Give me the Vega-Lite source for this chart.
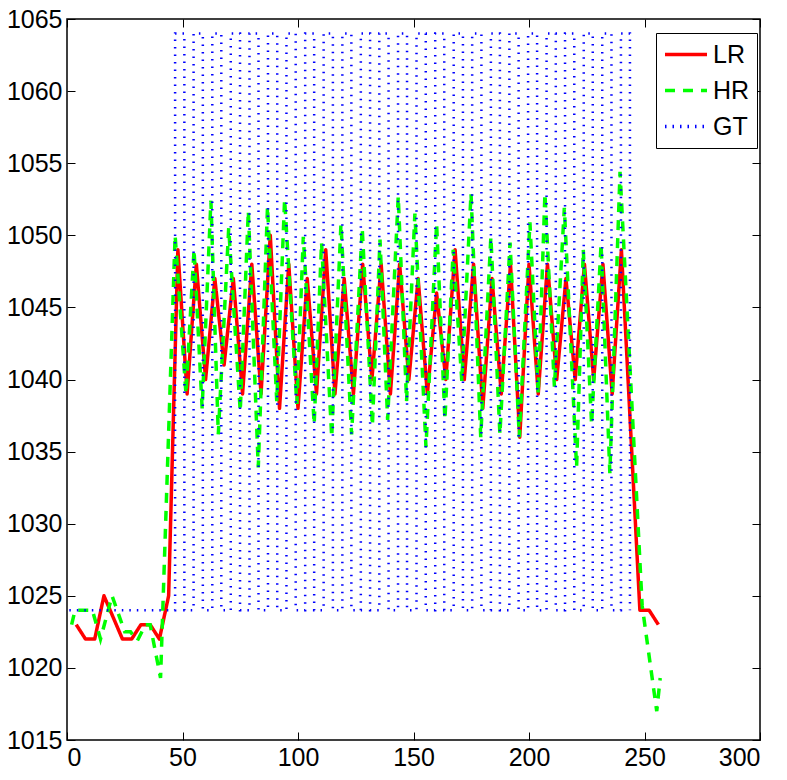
{
  "$schema": "https://vega.github.io/schema/vega-lite/v6.json",
  "width": 693,
  "height": 721,
  "autosize": {"type": "none"},
  "padding": {"left": 67, "top": 19, "right": 27, "bottom": 40},
  "background": "white",
  "config": {
    "view": {"stroke": "black", "strokeWidth": 1.5},
    "axis": {
      "grid": false,
      "domain": false,
      "tickColor": "black",
      "tickSize": -8,
      "tickWidth": 1,
      "labelFont": "Liberation Sans, Arial, sans-serif",
      "labelFontSize": 25,
      "labelColor": "black",
      "format": "d",
      "title": null
    }
  },
  "datasets": {
    "lr": [
      {"x": 4, "y": 1023, "s": "LR"}, {"x": 8, "y": 1022, "s": "LR"}, {"x": 12, "y": 1022, "s": "LR"},
      {"x": 16, "y": 1025, "s": "LR"}, {"x": 20, "y": 1023.5, "s": "LR"}, {"x": 24, "y": 1022, "s": "LR"},
      {"x": 28, "y": 1022, "s": "LR"}, {"x": 32, "y": 1023, "s": "LR"}, {"x": 36, "y": 1023, "s": "LR"},
      {"x": 40, "y": 1022, "s": "LR"}, {"x": 44, "y": 1025, "s": "LR"}, {"x": 48, "y": 1049, "s": "LR"},
      {"x": 52, "y": 1039, "s": "LR"}, {"x": 56, "y": 1048, "s": "LR"}, {"x": 60, "y": 1040, "s": "LR"},
      {"x": 64, "y": 1047, "s": "LR"}, {"x": 68, "y": 1041, "s": "LR"}, {"x": 72, "y": 1047, "s": "LR"},
      {"x": 76, "y": 1039, "s": "LR"}, {"x": 80, "y": 1048, "s": "LR"}, {"x": 84, "y": 1039, "s": "LR"},
      {"x": 88, "y": 1050, "s": "LR"}, {"x": 92, "y": 1038, "s": "LR"}, {"x": 96, "y": 1048, "s": "LR"},
      {"x": 100, "y": 1038, "s": "LR"}, {"x": 104, "y": 1047, "s": "LR"}, {"x": 108, "y": 1039, "s": "LR"},
      {"x": 112, "y": 1049, "s": "LR"}, {"x": 116, "y": 1039, "s": "LR"}, {"x": 120, "y": 1047, "s": "LR"},
      {"x": 124, "y": 1039, "s": "LR"}, {"x": 128, "y": 1048, "s": "LR"}, {"x": 132, "y": 1040, "s": "LR"},
      {"x": 136, "y": 1048, "s": "LR"}, {"x": 140, "y": 1039, "s": "LR"}, {"x": 144, "y": 1048, "s": "LR"},
      {"x": 148, "y": 1040, "s": "LR"}, {"x": 152, "y": 1047, "s": "LR"}, {"x": 156, "y": 1039, "s": "LR"},
      {"x": 160, "y": 1046, "s": "LR"}, {"x": 164, "y": 1040, "s": "LR"}, {"x": 168, "y": 1049, "s": "LR"},
      {"x": 172, "y": 1040, "s": "LR"}, {"x": 176, "y": 1048, "s": "LR"}, {"x": 180, "y": 1038, "s": "LR"},
      {"x": 184, "y": 1047, "s": "LR"}, {"x": 188, "y": 1039, "s": "LR"}, {"x": 192, "y": 1048, "s": "LR"},
      {"x": 196, "y": 1036, "s": "LR"}, {"x": 200, "y": 1048, "s": "LR"}, {"x": 204, "y": 1039, "s": "LR"},
      {"x": 208, "y": 1048, "s": "LR"}, {"x": 212, "y": 1040, "s": "LR"}, {"x": 216, "y": 1047, "s": "LR"},
      {"x": 220, "y": 1040, "s": "LR"}, {"x": 224, "y": 1048, "s": "LR"}, {"x": 228, "y": 1040, "s": "LR"},
      {"x": 232, "y": 1048, "s": "LR"}, {"x": 236, "y": 1039, "s": "LR"}, {"x": 240, "y": 1049, "s": "LR"},
      {"x": 244, "y": 1036.5, "s": "LR"}, {"x": 248, "y": 1024, "s": "LR"}, {"x": 252, "y": 1024, "s": "LR"},
      {"x": 256, "y": 1023, "s": "LR"}
    ],
    "hr": [
      {"x": 2, "y": 1023, "s": "HR"}, {"x": 3.5, "y": 1024, "s": "HR"}, {"x": 11, "y": 1024, "s": "HR"},
      {"x": 14.5, "y": 1022, "s": "HR"}, {"x": 19.5, "y": 1025, "s": "HR"}, {"x": 25, "y": 1022.5, "s": "HR"},
      {"x": 27.5, "y": 1022.5, "s": "HR"}, {"x": 30.5, "y": 1021.9, "s": "HR"}, {"x": 34, "y": 1023, "s": "HR"},
      {"x": 36, "y": 1023, "s": "HR"}, {"x": 40.5, "y": 1019.3, "s": "HR"},
      {"x": 46.8, "y": 1050, "s": "HR"}, {"x": 51.5, "y": 1039, "s": "HR"}, {"x": 55, "y": 1049, "s": "HR"},
      {"x": 58.5, "y": 1038, "s": "HR"}, {"x": 62.3, "y": 1052.4, "s": "HR"}, {"x": 65.5, "y": 1036.2, "s": "HR"},
      {"x": 70, "y": 1050.5, "s": "HR"}, {"x": 75, "y": 1037.8, "s": "HR"}, {"x": 78.5, "y": 1051.7, "s": "HR"},
      {"x": 82.8, "y": 1033.9, "s": "HR"}, {"x": 86.8, "y": 1052, "s": "HR"}, {"x": 90.8, "y": 1038.5, "s": "HR"},
      {"x": 94.2, "y": 1052.5, "s": "HR"}, {"x": 99.5, "y": 1038.3, "s": "HR"}, {"x": 102.3, "y": 1049.9, "s": "HR"},
      {"x": 107, "y": 1036.9, "s": "HR"}, {"x": 110.2, "y": 1049.5, "s": "HR"}, {"x": 114.6, "y": 1036, "s": "HR"},
      {"x": 118.6, "y": 1050.8, "s": "HR"}, {"x": 123.2, "y": 1036.2, "s": "HR"}, {"x": 127.8, "y": 1050.5, "s": "HR"},
      {"x": 132.2, "y": 1036.8, "s": "HR"}, {"x": 135.5, "y": 1049.7, "s": "HR"}, {"x": 138.8, "y": 1037.2, "s": "HR"},
      {"x": 143.4, "y": 1052.7, "s": "HR"}, {"x": 147, "y": 1038.5, "s": "HR"}, {"x": 150.6, "y": 1051.5, "s": "HR"},
      {"x": 155.4, "y": 1035.3, "s": "HR"}, {"x": 160, "y": 1050.8, "s": "HR"}, {"x": 163.6, "y": 1037.2, "s": "HR"},
      {"x": 167.2, "y": 1049, "s": "HR"}, {"x": 170.9, "y": 1039.9, "s": "HR"}, {"x": 174.9, "y": 1052.9, "s": "HR"},
      {"x": 179.1, "y": 1036, "s": "HR"}, {"x": 183.5, "y": 1049.9, "s": "HR"}, {"x": 187.4, "y": 1036.2, "s": "HR"},
      {"x": 191.8, "y": 1049.5, "s": "HR"}, {"x": 195.8, "y": 1036, "s": "HR"}, {"x": 200.4, "y": 1050.9, "s": "HR"},
      {"x": 204, "y": 1039, "s": "HR"}, {"x": 206.9, "y": 1052.9, "s": "HR"}, {"x": 211, "y": 1039.5, "s": "HR"},
      {"x": 215.3, "y": 1051.9, "s": "HR"}, {"x": 220.6, "y": 1033.9, "s": "HR"}, {"x": 223.5, "y": 1049, "s": "HR"},
      {"x": 227.1, "y": 1036.9, "s": "HR"}, {"x": 231.2, "y": 1049.4, "s": "HR"}, {"x": 235, "y": 1033.5, "s": "HR"},
      {"x": 239.4, "y": 1054.4, "s": "HR"}, {"x": 249, "y": 1024.3, "s": "HR"}, {"x": 255.3, "y": 1017, "s": "HR"},
      {"x": 256.8, "y": 1019.3, "s": "HR"}
    ],
    "gt": [
      {"i": 0, "x": 1, "y": 1024, "s": "GT"},
      {"i": 1, "x": 46.8, "y": 1024, "s": "GT"}, {"i": 2, "x": 46.8, "y": 1064, "s": "GT"}, {"i": 3, "x": 50.8, "y": 1064, "s": "GT"}, {"i": 4, "x": 50.8, "y": 1024, "s": "GT"},
      {"i": 5, "x": 54.8, "y": 1024, "s": "GT"}, {"i": 6, "x": 54.8, "y": 1064, "s": "GT"}, {"i": 7, "x": 58.8, "y": 1064, "s": "GT"}, {"i": 8, "x": 58.8, "y": 1024, "s": "GT"},
      {"i": 9, "x": 62.9, "y": 1024, "s": "GT"}, {"i": 10, "x": 62.9, "y": 1064, "s": "GT"}, {"i": 11, "x": 66.8, "y": 1064, "s": "GT"}, {"i": 12, "x": 66.8, "y": 1024, "s": "GT"},
      {"i": 13, "x": 70.9, "y": 1024, "s": "GT"}, {"i": 14, "x": 70.9, "y": 1064, "s": "GT"}, {"i": 15, "x": 74.9, "y": 1064, "s": "GT"}, {"i": 16, "x": 74.9, "y": 1024, "s": "GT"},
      {"i": 17, "x": 79.0, "y": 1024, "s": "GT"}, {"i": 18, "x": 79.0, "y": 1064, "s": "GT"}, {"i": 19, "x": 82.9, "y": 1064, "s": "GT"}, {"i": 20, "x": 82.9, "y": 1024, "s": "GT"},
      {"i": 21, "x": 87.0, "y": 1024, "s": "GT"}, {"i": 22, "x": 87.0, "y": 1064, "s": "GT"}, {"i": 23, "x": 91.0, "y": 1064, "s": "GT"}, {"i": 24, "x": 91.0, "y": 1024, "s": "GT"},
      {"i": 25, "x": 95.0, "y": 1024, "s": "GT"}, {"i": 26, "x": 95.0, "y": 1064, "s": "GT"}, {"i": 27, "x": 99.0, "y": 1064, "s": "GT"}, {"i": 28, "x": 99.0, "y": 1024, "s": "GT"},
      {"i": 29, "x": 103.1, "y": 1024, "s": "GT"}, {"i": 30, "x": 103.1, "y": 1064, "s": "GT"}, {"i": 31, "x": 107.0, "y": 1064, "s": "GT"}, {"i": 32, "x": 107.0, "y": 1024, "s": "GT"},
      {"i": 33, "x": 111.1, "y": 1024, "s": "GT"}, {"i": 34, "x": 111.1, "y": 1064, "s": "GT"}, {"i": 35, "x": 115.1, "y": 1064, "s": "GT"}, {"i": 36, "x": 115.1, "y": 1024, "s": "GT"},
      {"i": 37, "x": 119.2, "y": 1024, "s": "GT"}, {"i": 38, "x": 119.2, "y": 1064, "s": "GT"}, {"i": 39, "x": 123.1, "y": 1064, "s": "GT"}, {"i": 40, "x": 123.1, "y": 1024, "s": "GT"},
      {"i": 41, "x": 127.2, "y": 1024, "s": "GT"}, {"i": 42, "x": 127.2, "y": 1064, "s": "GT"}, {"i": 43, "x": 131.2, "y": 1064, "s": "GT"}, {"i": 44, "x": 131.2, "y": 1024, "s": "GT"},
      {"i": 45, "x": 135.2, "y": 1024, "s": "GT"}, {"i": 46, "x": 135.2, "y": 1064, "s": "GT"}, {"i": 47, "x": 139.2, "y": 1064, "s": "GT"}, {"i": 48, "x": 139.2, "y": 1024, "s": "GT"},
      {"i": 49, "x": 143.3, "y": 1024, "s": "GT"}, {"i": 50, "x": 143.3, "y": 1064, "s": "GT"}, {"i": 51, "x": 147.2, "y": 1064, "s": "GT"}, {"i": 52, "x": 147.2, "y": 1024, "s": "GT"},
      {"i": 53, "x": 151.3, "y": 1024, "s": "GT"}, {"i": 54, "x": 151.3, "y": 1064, "s": "GT"}, {"i": 55, "x": 155.3, "y": 1064, "s": "GT"}, {"i": 56, "x": 155.3, "y": 1024, "s": "GT"},
      {"i": 57, "x": 159.4, "y": 1024, "s": "GT"}, {"i": 58, "x": 159.4, "y": 1064, "s": "GT"}, {"i": 59, "x": 163.3, "y": 1064, "s": "GT"}, {"i": 60, "x": 163.3, "y": 1024, "s": "GT"},
      {"i": 61, "x": 167.4, "y": 1024, "s": "GT"}, {"i": 62, "x": 167.4, "y": 1064, "s": "GT"}, {"i": 63, "x": 171.4, "y": 1064, "s": "GT"}, {"i": 64, "x": 171.4, "y": 1024, "s": "GT"},
      {"i": 65, "x": 175.4, "y": 1024, "s": "GT"}, {"i": 66, "x": 175.4, "y": 1064, "s": "GT"}, {"i": 67, "x": 179.4, "y": 1064, "s": "GT"}, {"i": 68, "x": 179.4, "y": 1024, "s": "GT"},
      {"i": 69, "x": 183.5, "y": 1024, "s": "GT"}, {"i": 70, "x": 183.5, "y": 1064, "s": "GT"}, {"i": 71, "x": 187.4, "y": 1064, "s": "GT"}, {"i": 72, "x": 187.4, "y": 1024, "s": "GT"},
      {"i": 73, "x": 191.5, "y": 1024, "s": "GT"}, {"i": 74, "x": 191.5, "y": 1064, "s": "GT"}, {"i": 75, "x": 195.5, "y": 1064, "s": "GT"}, {"i": 76, "x": 195.5, "y": 1024, "s": "GT"},
      {"i": 77, "x": 199.6, "y": 1024, "s": "GT"}, {"i": 78, "x": 199.6, "y": 1064, "s": "GT"}, {"i": 79, "x": 203.5, "y": 1064, "s": "GT"}, {"i": 80, "x": 203.5, "y": 1024, "s": "GT"},
      {"i": 81, "x": 207.6, "y": 1024, "s": "GT"}, {"i": 82, "x": 207.6, "y": 1064, "s": "GT"}, {"i": 83, "x": 211.6, "y": 1064, "s": "GT"}, {"i": 84, "x": 211.6, "y": 1024, "s": "GT"},
      {"i": 85, "x": 215.6, "y": 1024, "s": "GT"}, {"i": 86, "x": 215.6, "y": 1064, "s": "GT"}, {"i": 87, "x": 219.6, "y": 1064, "s": "GT"}, {"i": 88, "x": 219.6, "y": 1024, "s": "GT"},
      {"i": 89, "x": 223.7, "y": 1024, "s": "GT"}, {"i": 90, "x": 223.7, "y": 1064, "s": "GT"}, {"i": 91, "x": 227.6, "y": 1064, "s": "GT"}, {"i": 92, "x": 227.6, "y": 1024, "s": "GT"},
      {"i": 93, "x": 231.7, "y": 1024, "s": "GT"}, {"i": 94, "x": 231.7, "y": 1064, "s": "GT"}, {"i": 95, "x": 235.7, "y": 1064, "s": "GT"}, {"i": 96, "x": 235.7, "y": 1024, "s": "GT"},
      {"i": 97, "x": 239.8, "y": 1024, "s": "GT"}, {"i": 98, "x": 239.8, "y": 1064, "s": "GT"}, {"i": 99, "x": 243.7, "y": 1064, "s": "GT"}, {"i": 100, "x": 243.7, "y": 1024, "s": "GT"}
    ]
  },
  "layer": [
    {
      "data": {"name": "lr"},
      "mark": {"type": "line", "strokeWidth": 3.5, "strokeJoin": "round"},
      "encoding": {
        "x": {"field": "x", "type": "quantitative", "scale": {"domain": [0, 300], "nice": false, "zero": false},
              "axis": {"orient": "bottom", "values": [0, 50, 100, 150, 200, 250, 300], "labelPadding": 13}},
        "y": {"field": "y", "type": "quantitative", "scale": {"domain": [1015, 1065], "nice": false, "zero": false},
              "axis": {"orient": "left", "values": [1015, 1020, 1025, 1030, 1035, 1040, 1045, 1050, 1055, 1060, 1065], "labelPadding": 13}},
        "color": {"field": "s", "type": "nominal",
                  "scale": {"domain": ["LR", "HR", "GT"], "range": ["#ff0000", "#00ff00", "#0000ff"]},
                  "legend": {"title": null, "orient": "none", "legendX": 589, "legendY": 14, "symbolType": "stroke",
                             "symbolSize": 1764, "symbolStrokeWidth": 3.5, "labelFont": "Liberation Sans, Arial, sans-serif",
                             "labelFontSize": 25, "labelColor": "black", "labelOffset": 4, "padding": 7, "rowPadding": 7,
                             "clipHeight": 29, "strokeColor": "black", "fillColor": "white", "cornerRadius": 0}},
        "strokeDash": {"field": "s", "type": "nominal",
                       "scale": {"domain": ["LR", "HR", "GT"], "range": [[1, 0], [10, 8], [1.5, 6]]},
                       "legend": {"title": null, "orient": "none", "legendX": 589, "legendY": 14, "symbolType": "stroke",
                             "symbolSize": 1764, "symbolStrokeWidth": 3.5, "labelFont": "Liberation Sans, Arial, sans-serif",
                             "labelFontSize": 25, "labelColor": "black", "labelOffset": 4, "padding": 7, "rowPadding": 7,
                             "clipHeight": 29, "strokeColor": "black", "fillColor": "white", "cornerRadius": 0}}
      }
    },
    {
      "data": {"name": "hr"},
      "mark": {"type": "line", "strokeWidth": 3.5},
      "encoding": {
        "x": {"field": "x", "type": "quantitative", "scale": {"domain": [0, 300], "nice": false, "zero": false}, "axis": null},
        "y": {"field": "y", "type": "quantitative", "scale": {"domain": [1015, 1065], "nice": false, "zero": false}, "axis": null},
        "color": {"field": "s", "type": "nominal", "scale": {"domain": ["LR", "HR", "GT"], "range": ["#ff0000", "#00ff00", "#0000ff"]}},
        "strokeDash": {"field": "s", "type": "nominal", "scale": {"domain": ["LR", "HR", "GT"], "range": [[1, 0], [10, 8], [1.5, 6]]}}
      }
    },
    {
      "data": {"name": "gt"},
      "mark": {"type": "line", "strokeWidth": 2.5},
      "encoding": {
        "x": {"field": "x", "type": "quantitative", "scale": {"domain": [0, 300], "nice": false, "zero": false}, "axis": null},
        "y": {"field": "y", "type": "quantitative", "scale": {"domain": [1015, 1065], "nice": false, "zero": false}, "axis": null},
        "order": {"field": "i", "type": "quantitative"},
        "color": {"field": "s", "type": "nominal", "scale": {"domain": ["LR", "HR", "GT"], "range": ["#ff0000", "#00ff00", "#0000ff"]}},
        "strokeDash": {"field": "s", "type": "nominal", "scale": {"domain": ["LR", "HR", "GT"], "range": [[1, 0], [10, 8], [1.5, 6]]}}
      }
    },
    {
      "data": {"name": "lr"},
      "mark": {"type": "point", "opacity": 0},
      "encoding": {
        "x": {"field": "x", "type": "quantitative", "scale": {"domain": [0, 300], "nice": false, "zero": false},
              "axis": {"orient": "top", "values": [0, 50, 100, 150, 200, 250, 300], "labels": false}},
        "y": {"field": "y", "type": "quantitative", "scale": {"domain": [1015, 1065], "nice": false, "zero": false},
              "axis": {"orient": "right", "values": [1015, 1020, 1025, 1030, 1035, 1040, 1045, 1050, 1055, 1060, 1065], "labels": false}}
      }
    }
  ],
  "resolve": {"axis": {"x": "independent", "y": "independent"}}
}
